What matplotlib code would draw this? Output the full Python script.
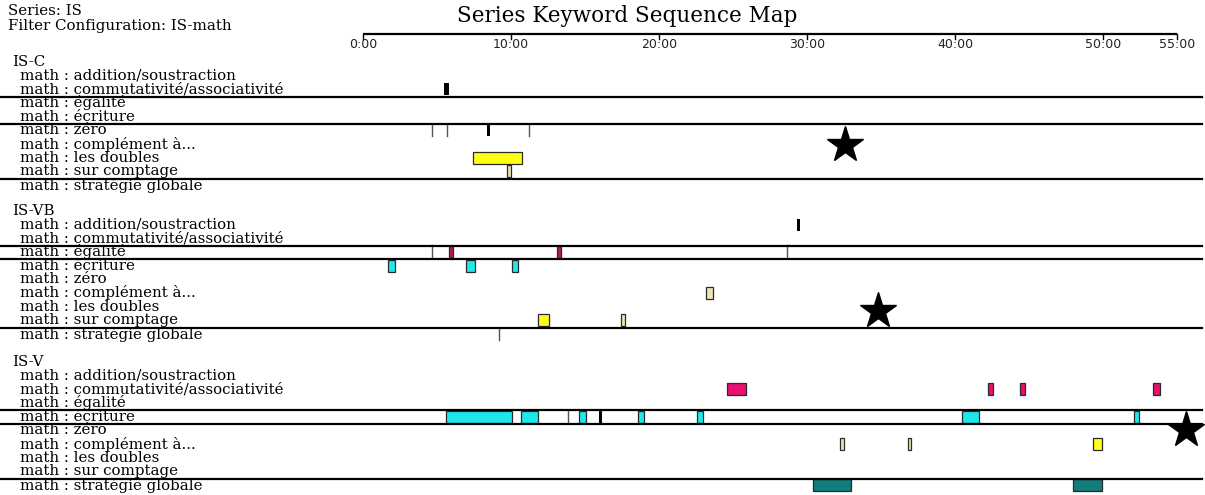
import matplotlib

matplotlib.use("Agg")
import matplotlib.pyplot as plt

W, H = 1205, 495

KEYWORDS = [
    "math : addition/soustraction",
    "math : commutativité/associativité",
    "math : égalité",
    "math : écriture",
    "math : zéro",
    "math : complément à...",
    "math : les doubles",
    "math : sur comptage",
    "math : stratégie globale",
]
SECTIONS = ["IS-C", "IS-VB", "IS-V"]
TICKS = [0, 10, 20, 30, 40, 50, 55]
TICK_LABELS = ["0:00", "10:00", "20:00", "30:00", "40:00", "50:00", "55:00"]

# events per series: keyword row, start / end in minutes, kind
ISC_ROW = [1, 4, 4, 4, 4, 6, 7]
ISC_START = [5.5, 4.66, 5.7, 8.4, 11.2, 7.4, 9.7]
ISC_END = [5.8, 4.66, 5.7, 8.55, 11.2, 10.75, 10.0]
ISC_KIND = ["mark", "tick", "tick", "mark", "tick", "bar", "bar"]

ISVB_ROW = [0, 2, 2, 2, 2, 3, 3, 3, 5, 7, 7, 8]
ISVB_START = [29.3, 4.66, 5.8, 13.1, 28.65, 1.7, 6.96, 10.1, 23.2, 11.8, 17.4, 9.2]
ISVB_END = [29.5, 4.66, 6.05, 13.35, 28.65, 2.16, 7.57, 10.5, 23.65, 12.6, 17.7, 9.2]
ISVB_KIND = ["mark", "tick", "bar", "bar", "tick", "bar", "bar", "bar", "bar", "bar", "bar", "tick"]

ISV_ROW = [1, 1, 1, 1, 3, 3, 3, 3, 3, 3, 3, 3, 3, 5, 5, 5, 8, 8]
ISV_START = [24.6, 42.2, 44.4, 53.4, 5.6, 10.7, 13.85, 14.6, 15.95, 18.6, 22.6, 40.5, 52.1,
             32.2, 36.8, 49.3, 30.4, 48.0]
ISV_END = [25.9, 42.6, 44.7, 53.85, 10.1, 11.8, 13.85, 15.1, 16.15, 19.0, 22.95, 41.6, 52.4,
           32.5, 37.0, 49.9, 33.0, 49.9]
ISV_KIND = ["bar", "bar", "bar", "bar", "bar", "bar", "tick", "bar", "mark", "bar", "bar", "bar", "bar",
            "bar", "bar", "bar", "bar", "bar"]

# row boundaries (after keyword index) drawn as separator lines
SEPARATORS = [[1, 3, 7], [1, 2, 7], [2, 3, 7]]

# star annotations: minute, keyword row (fractional)
STAR_T = [32.6, 34.8, 55.6]
STAR_ROW = [5.1, 6.35, 4.0]

EVENTS = [
    (ISC_ROW, ISC_START, ISC_END, ISC_KIND),
    (ISVB_ROW, ISVB_START, ISVB_END, ISVB_KIND),
    (ISV_ROW, ISV_START, ISV_END, ISV_KIND),
]

KEY_COLORS = ["#111111", "#ea1070", "#b0204e", "#1ee8ec", "#111111",
              "#ffff14", "#ffff14", "#ffff14", "#137c7c"]
PALE_YELLOW = "#ece6b0"

# layout (pixels)
X0, PX_PER_MIN = 363, 14.8
SECTION_Y = [62, 211, 362]
ROW_OFF, ROW_STEP = 13.5, 13.7
SERIF = "DejaVu Serif"
LABEL_SIZE = 10.8


def row_y(s, i):
    return SECTION_Y[s] + ROW_OFF + ROW_STEP * i


fig = plt.figure(figsize=(W / 100, H / 100), dpi=100)
ax = fig.add_axes([0, 0, 1, 1])
ax.set_xlim(-X0 / PX_PER_MIN, (W - X0) / PX_PER_MIN)
ax.set_ylim(H, 0)
ax.axis("off")

px = 1 / PX_PER_MIN  # one pixel in minutes

# header texts
fig.text(8 / W, 1 - 11 / H, "Series: IS", family=SERIF, fontsize=LABEL_SIZE, va="center")
fig.text(8 / W, 1 - 26 / H, "Filter Configuration: IS-math", family=SERIF, fontsize=LABEL_SIZE,
         va="center")
fig.text(627 / W, 1 - 16 / H, "Series Keyword Sequence Map", family=SERIF, fontsize=15.5,
         va="center", ha="center")

# time axis
ax.plot([0, 55], [34, 34], color="black", lw=1.6, solid_capstyle="butt")
for t, lab in zip(TICKS, TICK_LABELS):
    ax.plot([t, t], [34, 39], color="black", lw=1)
    ax.text(t, 45, lab, family="DejaVu Sans", fontsize=9, ha="center", va="center", color="#222222")

for s, name in enumerate(SECTIONS):
    ax.text(-(X0 - 12) * px, SECTION_Y[s], name, family=SERIF, fontsize=LABEL_SIZE, va="center")
    for i, kw in enumerate(KEYWORDS):
        ax.text(-(X0 - 20) * px, row_y(s, i), kw, family=SERIF, fontsize=LABEL_SIZE, va="center")
    for b in SEPARATORS[s]:
        y = row_y(s, b) + 7.3
        ax.plot([-X0 * px, (W - 3 - X0) * px], [y, y], color="black", lw=1.6, zorder=3)

    rows, starts, ends, kinds = EVENTS[s]
    for r, a, e, k in zip(rows, starts, ends, kinds):
        y = row_y(s, r)
        if k == "tick":
            ax.plot([a, a], [y - 6.5, y + 5.5], color="#555555", lw=1, zorder=2)
        elif k == "mark":
            ax.barh(y, max(e - a, 2 * px), left=a, height=12, color="black", zorder=2)
        else:
            c = KEY_COLORS[r]
            if c == "#ffff14" and e - a < 0.5:
                c = PALE_YELLOW
            ax.barh(y, e - a, left=a, height=12, color=c, edgecolor="#2a2a2a",
                    linewidth=0.9, zorder=2)

    ax.plot(STAR_T[s], row_y(s, STAR_ROW[s]), marker="*", color="black",
            markersize=27, zorder=4, clip_on=False)

fig.savefig("out.png", dpi=100)
